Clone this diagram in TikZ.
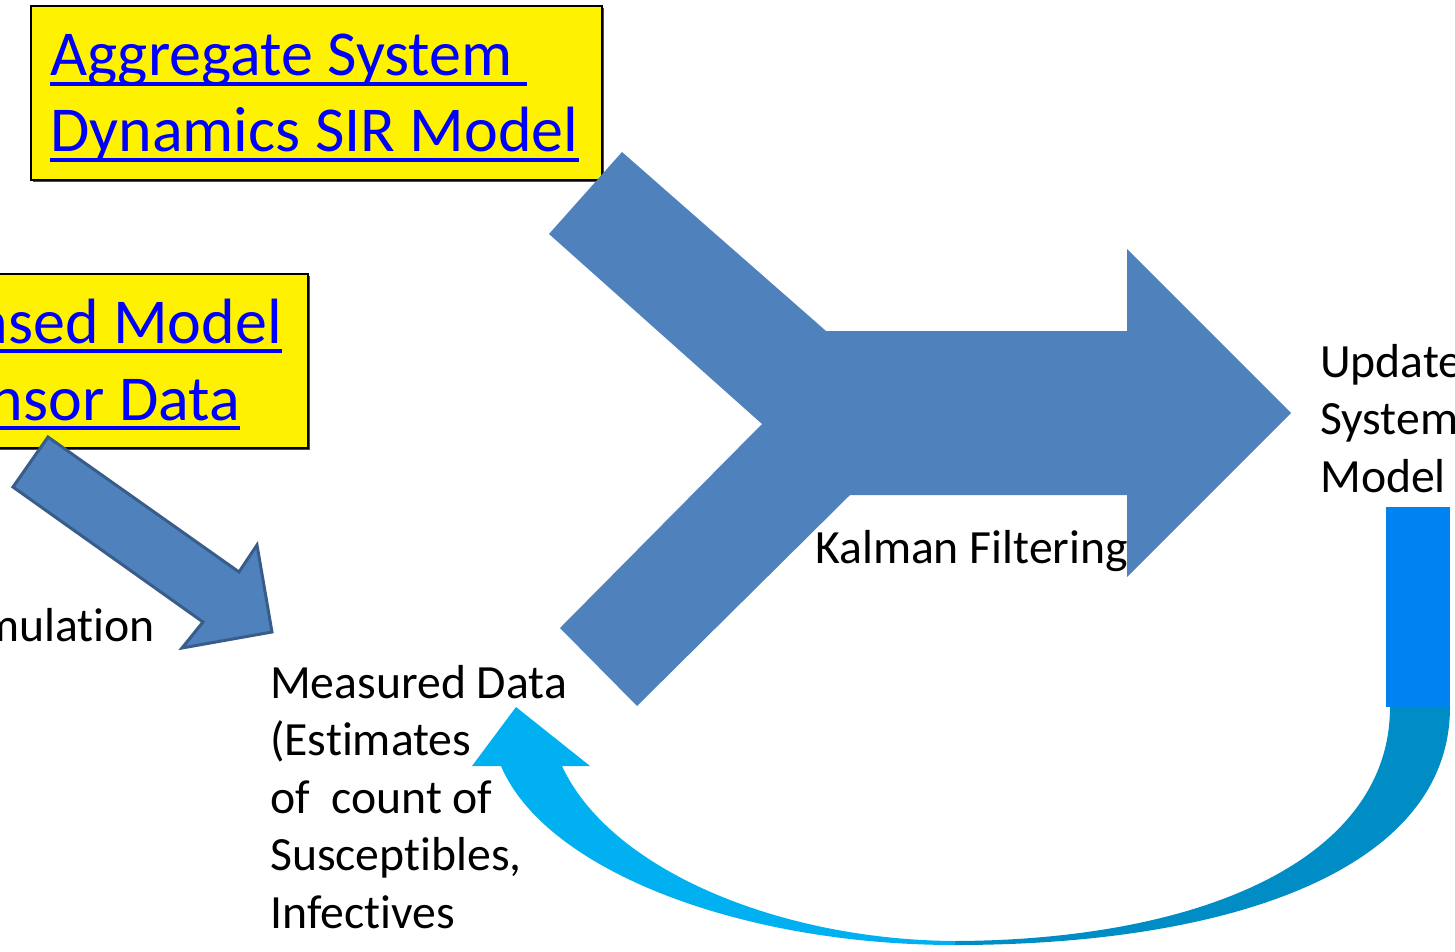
\documentclass[tikz,border=0pt]{standalone}
\usepackage{fontspec}
\setmainfont{Carlito}[Ligatures=NoCommon]
\usetikzlibrary{shadows}
\definecolor{arrowblue}{HTML}{4F81BD}
\definecolor{arrowedge}{HTML}{385D8A}
\definecolor{linkblue}{HTML}{0000FF}
\definecolor{barblue}{HTML}{0082F0}
\definecolor{loopdark}{HTML}{008CC4}
\definecolor{looplight}{HTML}{00B0F0}
\tikzset{
  ybox/.style={draw=black, line width=2pt, fill=yellow, inner sep=0pt, anchor=north west,
    drop shadow={shadow xshift=2pt, shadow yshift=-2pt, opacity=1, fill=black!70}},
  ytxt/.style={font=\fontsize{64}{76}\selectfont, text=linkblue, inner sep=0pt},
  ul/.style={draw=linkblue, line width=3.5pt},
  txt/.style={font=\fontsize{47.7}{57.5}\selectfont, inner sep=0pt, align=left},
  blk/.style={fill=arrowblue},
  thin blk/.style={fill=arrowblue, draw=arrowedge, line width=3pt, line join=miter}
}

\begin{document}
\begin{tikzpicture}[x=1pt, y=-1pt]
    \useasboundingbox (0,0) rectangle (1455,952);
    \clip (0,0) rectangle (1455,952);

    \node[ybox, minimum width=571pt, minimum height=174pt] (aggbox) at (30,5) {};
    \node[ybox, minimum width=330pt, minimum height=174pt] (abmbox) at (-23,273) {};

    \node[ytxt, anchor=base west] (agg1) at (50,76) {Aggregate System\kern14pt};
    \node[ytxt, anchor=base west] (agg2) at (50,152) {Dynamics SIR Model};
    \node[ytxt, anchor=base east] (abm1) at (282,343) {Based Model};
    \node[ytxt, anchor=base east] (abm2) at (240,420) {Sensor Data};
    \foreach \n in {agg1,agg2,abm1,abm2}
      \draw[ul] ([yshift=-8pt]\n.base west) -- ([yshift=-8pt]\n.base east);

    \fill[blk] (622,152) -- (826,331) -- (1127,331) -- (1127,249) -- (1291,413)
      -- (1127,577) -- (1127,495) -- (850,495) -- (637,706) -- (560,628)
      -- (762,424) -- (549,234) -- cycle;
    \filldraw[thin blk] (13,487) -- (48,437) -- (239,572) -- (257,545) -- (272,632)
      -- (182,648) -- (203,622) -- cycle;

    \fill[barblue] (1386,507) rectangle (1450,707);
    \fill[loopdark] (1390,707) -- (1450,707) .. controls (1450,870) and (1230,945) .. (955,945)
      -- (955,941) .. controls (1200,940) and (1390,860) .. (1390,707) -- cycle;
    \fill[looplight] (955,945) .. controls (740,945) and (545,870) .. (501,766)
      -- (472,766) -- (516,707) -- (590,766) -- (562,766)
      .. controls (610,870) and (780,940) .. (955,941) -- cycle;

    \node[txt, anchor=base east] (sim) at (155,641) {Simulation};
    \node[txt, anchor=base west] (kf) at (815,563) {Kalman Filtering};
    \node[txt, anchor=north west] (upd) at (1320,336.75) {\strut Update\\System\\Model};
    \node[txt, anchor=north west] (meas) at (270,657.75)
      {\strut Measured Data\\(Estimates\\of\ \ count of\\Susceptibles,\\Infectives};
  \end{tikzpicture}
\end{document}
